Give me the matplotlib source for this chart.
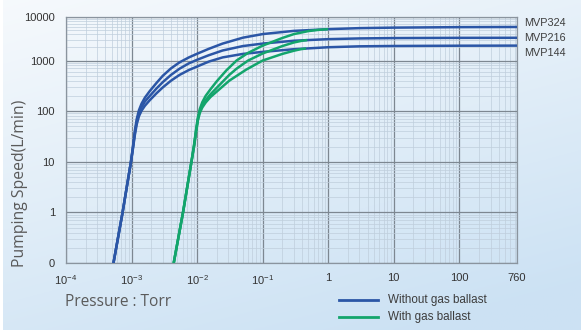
import numpy as np
import matplotlib
matplotlib.use("Agg")
import matplotlib.pyplot as plt
from matplotlib.ticker import FixedLocator, NullFormatter, LogLocator

# ---- data: pumping speed (L/min) versus pressure (Torr) ----
models = ["MVP324", "MVP216", "MVP144"]

# without gas ballast
p_dry = [5.3e-4, 7.3e-4, 9.8e-4, 1.05e-3, 1.12e-3, 1.2e-3, 1.3e-3, 1.42e-3, 1.6e-3, 1.9e-3,
         2.4e-3, 3e-3, 4e-3, 5.4e-3, 7.5e-3, 1e-2, 1.5e-2, 2.45e-2, 5e-2, 0.1, 0.3, 1, 3, 10,
         100, 760]
s_324_dry = [0.1, 1, 10, 20, 40, 70, 105, 140, 185, 250,
             360, 500, 700, 920, 1180, 1430, 1850, 2450, 3350, 4050, 4800, 5250, 5550, 5700,
             5850, 5900]
s_216_dry = [0.1, 1, 10, 19, 36, 62, 92, 120, 155, 200,
             280, 375, 520, 690, 880, 1040, 1320, 1700, 2150, 2450, 2850, 3100, 3220, 3280,
             3320, 3330]
s_144_dry = [0.1, 1, 10, 18, 33, 55, 80, 102, 128, 165,
             225, 295, 400, 520, 650, 760, 950, 1180, 1420, 1580, 1820, 2020, 2120, 2160,
             2190, 2200]

# with gas ballast (each ends where it meets its dry curve)
p_324_gb = [4.4e-3, 6.1e-3, 8.2e-3, 9e-3, 9.7e-3, 1.03e-2, 1.1e-2, 1.2e-2, 1.35e-2, 1.6e-2,
            2e-2, 2.8e-2, 4e-2, 6e-2, 0.1, 0.2, 0.3, 0.5, 0.7, 1]
s_324_gb = [0.1, 1, 10, 22, 45, 75, 110, 150, 200, 270,
            390, 640, 1000, 1500, 2200, 3300, 4050, 4750, 5050, 5250]

p_216_gb = [4.4e-3, 6.1e-3, 8.2e-3, 9e-3, 9.7e-3, 1.03e-2, 1.1e-2, 1.2e-2, 1.35e-2, 1.6e-2,
            2.1e-2, 3.1e-2, 4e-2, 6e-2, 0.1, 0.2, 0.3, 0.4, 0.48]
s_216_gb = [0.1, 1, 10, 21, 43, 70, 100, 130, 165, 215,
            310, 520, 690, 1000, 1450, 2150, 2600, 2850, 2950]

p_144_gb = [4.4e-3, 6.1e-3, 8.2e-3, 9e-3, 9.7e-3, 1.03e-2, 1.1e-2, 1.2e-2, 1.35e-2, 1.6e-2,
            2.4e-2, 3.1e-2, 5.6e-2, 0.1, 0.2, 0.3, 0.38, 0.46]
s_144_gb = [0.1, 1, 10, 20, 40, 66, 92, 118, 148, 190,
            300, 400, 660, 1000, 1420, 1680, 1820, 1890]

x_ticks = [1e-4, 1e-3, 1e-2, 1e-1, 1, 10, 100, 760]
x_tick_labels = [r"$10^{-4}$", r"$10^{-3}$", r"$10^{-2}$", r"$10^{-1}$", "1", "10", "100", "760"]
y_ticks = [0.1, 1, 10, 100, 1000, 10000]
y_tick_labels = ["0", "1", "10", "100", "1000", "10000"]

legend_labels = ["Without gas ballast", "With gas ballast"]

# ---- styling ----
BLUE = "#2b56a6"
GREEN = "#13a56c"
TEXT = "#333333"
LABEL = "#5a5a5a"

plt.rcParams["font.family"] = ["Liberation Sans", "DejaVu Sans"]
plt.rcParams["mathtext.fontset"] = "custom"
plt.rcParams["mathtext.rm"] = "Liberation Sans"
plt.rcParams["mathtext.it"] = "Liberation Sans"

fig = plt.figure(figsize=(5.81, 3.33), dpi=100)
fig.patch.set_facecolor("white")

# soft blue background wash
bg = fig.add_axes([3 / 581, 3 / 333, 1 - 3 / 581, 1 - 3 / 333], zorder=-10)
ny, nx = 200, 300
yy, xx = np.mgrid[0:1:ny * 1j, 0:1:nx * 1j]
t = np.clip(0.75 * yy + 0.35 * xx, 0, 1)
top = np.array([0.965, 0.978, 0.99])
bot = np.array([0.80, 0.885, 0.955])
img = top[None, None, :] * (1 - t[..., None]) + bot[None, None, :] * t[..., None]
bg.imshow(img, aspect="auto", extent=[0, 1, 0, 1], origin="upper")
bg.set_axis_off()

ax = fig.add_axes([66 / 581, 1 - 263 / 333, (517 - 66) / 581, (263 - 17) / 333])
ax.set_facecolor("none")

# the top decade of the speed axis is drawn slightly compressed
TOP = 0.86


def _fwd(y):
    l = np.log10(np.clip(np.asarray(y, float), 1e-12, None))
    return np.where(l > 3, 3 + (l - 3) * TOP, l)


def _inv(v):
    v = np.asarray(v, float)
    return 10 ** np.where(v > 3, 3 + (v - 3) / TOP, v)


ax.set_xscale("log")
ax.set_yscale("function", functions=(_fwd, _inv))
ax.set_xlim(1e-4, 760)
ax.set_ylim(0.1, 10000)

ax.xaxis.set_major_locator(FixedLocator(x_ticks))
ax.set_xticklabels(x_tick_labels)
ax.xaxis.set_minor_locator(LogLocator(base=10, subs=np.arange(2, 10), numticks=20))
ax.xaxis.set_minor_formatter(NullFormatter())

ax.yaxis.set_major_locator(FixedLocator(y_ticks))
ax.set_yticklabels(y_tick_labels)
y_minor = [m * 10.0 ** e for e in range(-1, 4) for m in range(2, 10)]
ax.yaxis.set_minor_locator(FixedLocator(y_minor))
ax.yaxis.set_minor_formatter(NullFormatter())

ax.grid(which="major", color="#7d8791", lw=0.9)
ax.grid(which="minor", color="#bfcedc", lw=0.5)
ax.set_axisbelow(True)
ax.tick_params(which="both", length=0)
ax.tick_params(axis="x", pad=7, labelsize=8, labelcolor=TEXT)
ax.tick_params(axis="y", pad=8, labelsize=8, labelcolor=TEXT)
for s in ax.spines.values():
    s.set_color("#8a949e")
    s.set_linewidth(0.9)

lw = 1.8
for s in [s_324_dry, s_216_dry, s_144_dry]:
    ax.plot(p_dry, s, color=BLUE, lw=lw, solid_capstyle="butt", solid_joinstyle="round",
            zorder=3)
for p, s in [(p_324_gb, s_324_gb), (p_216_gb, s_216_gb), (p_144_gb, s_144_gb)]:
    ax.plot(p, s, color=GREEN, lw=lw, solid_capstyle="butt", solid_joinstyle="round",
            zorder=4)

# model names at the right-hand end of each curve
ends = [s_324_dry[-1], s_216_dry[-1], s_144_dry[-1]]
offsets = [2.8, 0.0, -5.2]
for name, val, dy in zip(models, ends, offsets):
    ax.annotate(name, xy=(760, val), xytext=(5, dy), textcoords="offset points",
                ha="left", va="center", fontsize=7.8, color="#3d3d3d",
                annotation_clip=False)

# axis titles
fig.text(20 / 581, 1 - 183 / 333, "Pumping Speed(L/min)", rotation=90,
         ha="center", va="center", fontsize=11.3, color=LABEL,
         family=["Open Sans", "DejaVu Sans"])
fig.text(65 / 581, 1 - 302 / 333, "Pressure : Torr", ha="left", va="center",
         fontsize=11.2, color=LABEL, family=["Open Sans", "DejaVu Sans"])

# legend drawn as two short line samples
for i, (lab, col) in enumerate(zip(legend_labels, [BLUE, GREEN])):
    yf = 1 - (300 + 17 * i) / 333
    fig.add_artist(plt.Line2D([339 / 581, 378 / 581], [yf, yf], color=col, lw=2.0))
    fig.text(388 / 581, yf, lab, ha="left", va="center", fontsize=8.4, color="#3d3d3d")

fig.savefig("out.png", dpi=100)
